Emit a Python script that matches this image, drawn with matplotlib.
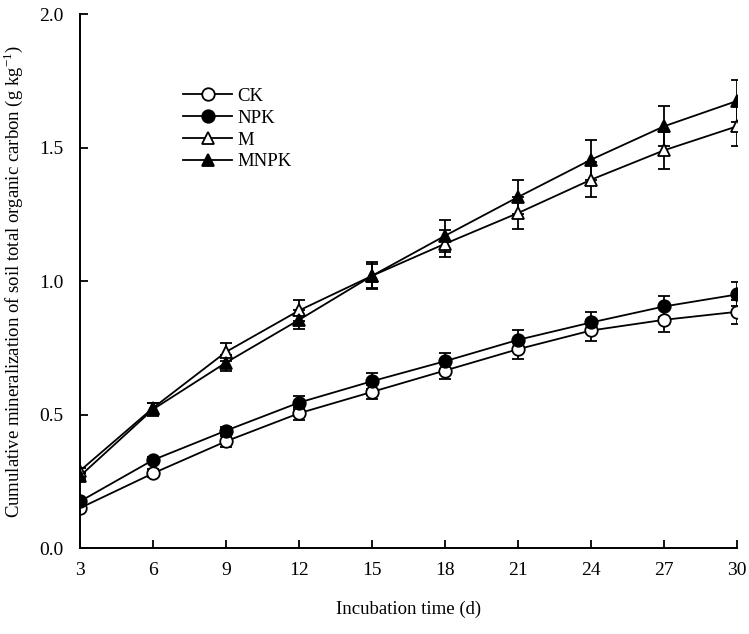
import matplotlib
matplotlib.use("Agg")
import matplotlib.pyplot as plt

plt.rcParams['font.family'] = ['Liberation Serif', 'DejaVu Serif']

# incubation days
days = [3, 6, 9, 12, 15, 18, 21, 24, 27, 30]

# cumulative mineralization (g kg-1) and error bars
ck = [0.15, 0.28, 0.40, 0.505, 0.585, 0.665, 0.745, 0.815, 0.855, 0.885]
ck_err = [0.01, 0.015, 0.02, 0.025, 0.025, 0.03, 0.035, 0.04, 0.045, 0.045]
npk = [0.175, 0.33, 0.44, 0.545, 0.625, 0.70, 0.78, 0.845, 0.905, 0.95]
npk_err = [0.01, 0.012, 0.015, 0.025, 0.03, 0.03, 0.035, 0.04, 0.04, 0.045]
m = [0.29, 0.525, 0.735, 0.89, 1.02, 1.14, 1.255, 1.38, 1.49, 1.58]
m_err = [0.01, 0.02, 0.035, 0.04, 0.045, 0.05, 0.06, 0.065, 0.07, 0.075]
mnpk = [0.27, 0.52, 0.695, 0.855, 1.02, 1.17, 1.315, 1.455, 1.58, 1.675]
mnpk_err = [0.01, 0.025, 0.03, 0.035, 0.05, 0.06, 0.065, 0.075, 0.075, 0.08]

fig = plt.figure(figsize=(7.49, 6.34), dpi=100)
ax = fig.add_axes([0.107, 0.1356, 0.877, 0.842])

series = [
    ("CK", ck, ck_err, 'o', 'white'),
    ("NPK", npk, npk_err, 'o', 'black'),
    ("M", m, m_err, '^', 'white'),
    ("MNPK", mnpk, mnpk_err, '^', 'black'),
]
for name, vals, err, mk, fc in series:
    ax.errorbar(days, vals, yerr=err, color='black', lw=1.3, marker=mk,
                markersize=9, markerfacecolor=fc, markeredgecolor='black',
                markeredgewidth=1.3, capsize=4, elinewidth=1.3, capthick=1.3,
                label=name)

ax.set_xlim(3, 30)
ax.set_ylim(0, 2.0)
ax.set_xticks(days)
ax.set_yticks([0.0, 0.5, 1.0, 1.5, 2.0])
ax.set_yticklabels(['0.0', '0.5', '1.0', '1.5', '2.0'])
ax.tick_params(direction='in', length=6, width=1.3, labelsize=14)
ax.tick_params(axis='x', pad=10)
ax.tick_params(axis='y', pad=12)
ax.spines['top'].set_visible(False)
ax.spines['right'].set_visible(False)
for s in ['left', 'bottom']:
    ax.spines[s].set_linewidth(1.4)

ax.set_xlabel("Incubation time (d)", fontsize=13.5, labelpad=16)
ax.set_ylabel("Cumulative mineralization of soil total organic carbon (g kg$^{\\mathregular{-1}}$)",
              fontsize=13.5, labelpad=10)

handles, labels = ax.get_legend_handles_labels()
handles = [h[0] for h in handles]
ax.legend(handles, labels, loc='upper left', bbox_to_anchor=(0.157, 0.862),
          frameon=False, fontsize=13.5, handlelength=2.6, labelspacing=0.25,
          handletextpad=0.3, borderpad=0, borderaxespad=0)

fig.savefig("out.png", dpi=100)
